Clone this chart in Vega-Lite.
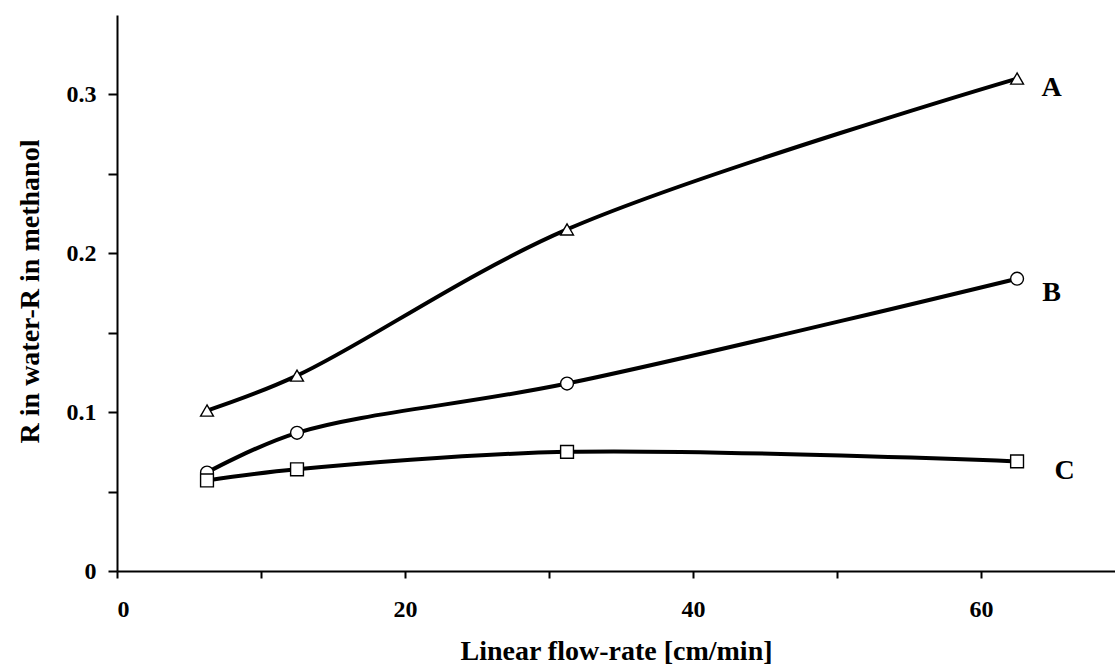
{
  "$schema": "https://vega.github.io/schema/vega-lite/v6.json",
  "width": 998,
  "height": 556,
  "autosize": {"type": "none"},
  "padding": {"left": 117, "top": 15, "right": 0, "bottom": 96},
  "background": "white",
  "config": {"view": {"stroke": null}, "font": "Liberation Serif"},
  "data": {
    "values": [
      {"series": "A", "flow": 6.25, "r": 0.101},
      {"series": "A", "flow": 12.5, "r": 0.123},
      {"series": "A", "flow": 31.25, "r": 0.215},
      {"series": "A", "flow": 62.5, "r": 0.310},
      {"series": "B", "flow": 6.25, "r": 0.062},
      {"series": "B", "flow": 12.5, "r": 0.087},
      {"series": "B", "flow": 31.25, "r": 0.118},
      {"series": "B", "flow": 62.5, "r": 0.184},
      {"series": "C", "flow": 6.25, "r": 0.057},
      {"series": "C", "flow": 12.5, "r": 0.064},
      {"series": "C", "flow": 31.25, "r": 0.075},
      {"series": "C", "flow": 62.5, "r": 0.069}
    ]
  },
  "encoding": {
    "x": {
      "field": "flow", "type": "quantitative",
      "scale": {"domain": [0, 69.3], "nice": false, "zero": false},
      "axis": {
        "title": "Linear flow-rate [cm/min]",
        "values": [0, 10, 20, 30, 40, 50, 60],
        "labelExpr": "datum.value % 20 == 0 ? datum.label : ''",
        "grid": false,
        "domainColor": "black", "domainWidth": 2,
        "tickColor": "black", "tickWidth": 2, "tickSize": 7,
        "labelFont": "Liberation Serif", "labelFontWeight": "bold", "labelFontSize": 24, "labelColor": "black",
        "labelPadding": 19,
        "titleFont": "Liberation Serif", "titleFontWeight": "bold", "titleFontSize": 28, "titleColor": "black",
        "titleY": 80, "titleBaseline": "middle"
      }
    },
    "y": {
      "field": "r", "type": "quantitative",
      "scale": {"domain": [0, 0.35], "nice": false},
      "axis": {
        "title": "R in water-R in methanol",
        "values": [0, 0.05, 0.1, 0.15, 0.2, 0.25, 0.3],
        "labelExpr": "round(datum.value * 100) % 10 == 0 ? format(datum.value, '.1~f') : ''",
        "grid": false,
        "domainColor": "black", "domainWidth": 2,
        "tickColor": "black", "tickWidth": 2, "tickSize": 9,
        "labelFont": "Liberation Serif", "labelFontWeight": "bold", "labelFontSize": 24, "labelColor": "black",
        "labelPadding": 12,
        "titleFont": "Liberation Serif", "titleFontWeight": "bold", "titleFontSize": 28, "titleColor": "black",
        "titleX": -87, "titleY": 276, "titleBaseline": "middle", "titleAngle": -90
      }
    }
  },
  "layer": [
    {
      "mark": {"type": "line", "interpolate": "catmull-rom", "color": "black", "strokeWidth": 4},
      "encoding": {"detail": {"field": "series"}}
    },
    {
      "mark": {"type": "point", "filled": true, "fill": "white", "stroke": "black", "strokeWidth": 1.4, "size": 165, "opacity": 1},
      "encoding": {
        "shape": {
          "field": "series", "type": "nominal",
          "scale": {"domain": ["A", "B", "C"], "range": ["triangle-up", "circle", "square"]},
          "legend": null
        }
      }
    },
    {
      "data": {
        "values": [
          {"label": "A", "flow": 64.9, "r": 0.304},
          {"label": "B", "flow": 64.9, "r": 0.175},
          {"label": "C", "flow": 65.8, "r": 0.063}
        ]
      },
      "mark": {"type": "text", "font": "Liberation Serif", "fontWeight": "bold", "fontSize": 28, "color": "black", "baseline": "middle", "align": "center"},
      "encoding": {"text": {"field": "label"}}
    }
  ]
}
